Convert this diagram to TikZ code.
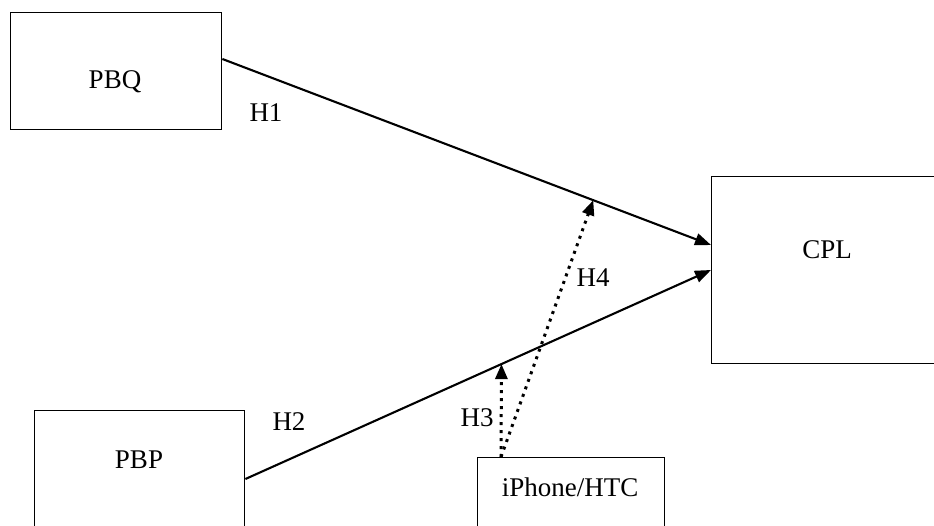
\documentclass[tikz,border=0pt]{standalone}
\usepackage{fontspec}
\setmainfont{Liberation Serif}
\usetikzlibrary{arrows.meta,calc}
\begin{document}
\begin{tikzpicture}[x=1pt,y=-1pt,
  box/.style={draw,line width=1.4pt,inner sep=0pt,anchor=north west},
  lbl/.style={font=\fontsize{27}{32}\selectfont,inner sep=0pt},
  arr/.style={line width=2.1pt,-{Triangle[length=16pt,width=12pt]}},
  dotarr/.style={line width=3pt,dash pattern=on 3pt off 5pt,-{Triangle[length=15pt,width=12pt]}}]
\useasboundingbox (0,0) rectangle (934,525);
\clip (0,0) rectangle (934,525);
\node[box,minimum width=211pt,minimum height=117pt] (pbq) at (10,12) {};
\node[box,minimum width=210pt,minimum height=130pt] (pbp) at (34,410) {};
\node[box,minimum width=187pt,minimum height=90pt] (iph) at (477,457) {};
\node[box,minimum width=232pt,minimum height=187pt] (cpl) at (711,176) {};
\node[lbl] (tpbq) at (115,82) {PBQ};
\node[lbl] (tpbp) at (139,460) {PBP};
\node[lbl] (tiph) at (570,487) {iPhone/HTC};
\node[lbl] (tcpl) at (827,250) {CPL};
\coordinate (s1) at ($(pbq.north east)+(0,47)$);
\coordinate (e1) at ($(cpl.north west)+(0,69)$);
\coordinate (s2) at ($(pbp.north east)+(0,69)$);
\coordinate (e2) at ($(cpl.north west)+(0,94)$);
\coordinate (s3) at ($(iph.north west)+(24,0)$);
\draw[arr] (s1) -- coordinate[pos=0.759] (m1) (e1);
\draw[arr] (s2) -- coordinate[pos=0.550] (m2) (e2);
\draw[dotarr] (s3) -- (m2);
\draw[dotarr] (s3) -- (m1);
\node[lbl] (h1) at (266,113) {H1};
\node[lbl] (h2) at (289,422) {H2};
\node[lbl] (h3) at (477,418) {H3};
\node[lbl] (h4) at (593,278) {H4};
\end{tikzpicture}
\end{document}
